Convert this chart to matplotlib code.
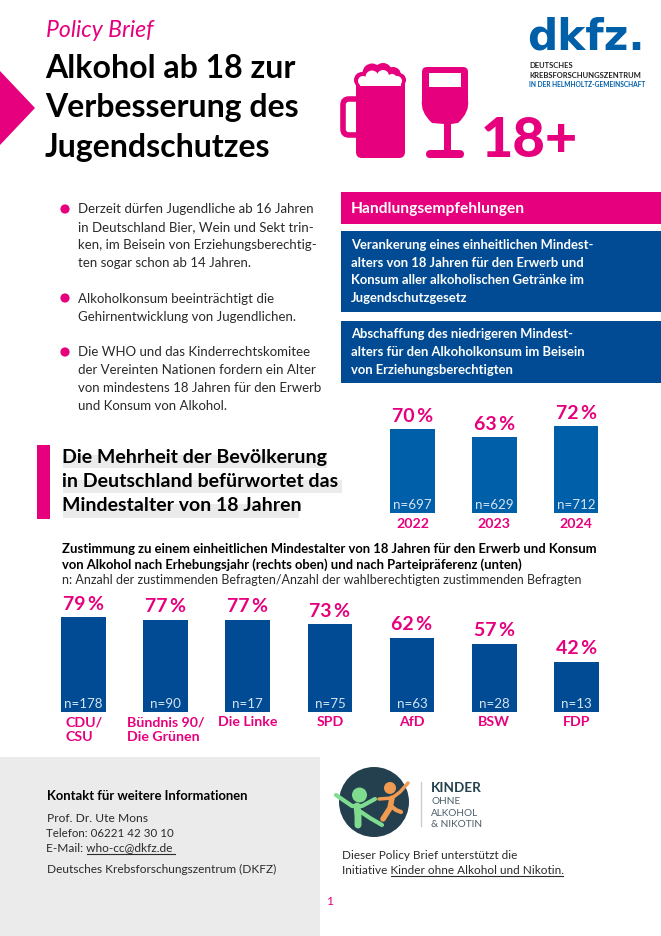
import matplotlib
matplotlib.use('Agg')
import matplotlib.pyplot as plt
from matplotlib.patches import Rectangle, Polygon, Circle, FancyBboxPatch, PathPatch
from matplotlib.path import Path

# Daten
jahre = ['2022', '2023', '2024']
jahre_werte = [70, 63, 72]
jahre_n = ['n=697', 'n=629', 'n=712']

parteien = ['CDU/\nCSU', 'Bündnis 90/\nDie Grünen', 'Die Linke', 'SPD', 'AfD', 'BSW', 'FDP']
parteien_werte = [79, 77, 77, 73, 62, 57, 42]
parteien_n = ['n=178', 'n=90', 'n=17', 'n=75', 'n=63', 'n=28', 'n=13']

PINK = '#e6007e'
BLAU = '#004b93'
BLAU2 = '#005fa9'
GRAU = '#ebebeb'
TXT = '#2a2a2a'
FONT = 'Lato'

plt.rcParams['font.family'] = [FONT, 'DejaVu Sans']

W, H = 661, 936
fig = plt.figure(figsize=(W / 100, H / 100), dpi=100)

# Seite in Pixelkoordinaten
bg = fig.add_axes([0, 0, 1, 1])
bg.set_xlim(0, W)
bg.set_ylim(H, 0)
bg.axis('off')


def t(x, y, s, px, color=TXT, weight='normal', **kw):
    return bg.text(x, y, s, fontsize=px * 0.72, color=color, fontweight=weight, va='baseline', **kw)


def rect(x0, y0, x1, y1, color):
    bg.add_patch(Rectangle((x0, y0), x1 - x0, y1 - y0, fc=color, ec='none'))


# Kopf
bg.add_patch(Polygon([(0, 71), (35, 108), (0, 145)], fc=PINK, ec='none'))
t(46, 37, 'Policy Brief', 23, color=PINK, style='italic')
for y, s in zip([78, 117, 157], ['Alkohol ab 18 zur', 'Verbesserung des', 'Jugendschutzes']):
    t(45, y, s, 32, color='#000000', weight='bold')

# Logo dkfz
bg.text(527, 50, 'dkfz.', fontsize=30.5, color=BLAU2, fontweight='bold', family='DejaVu Sans', va='baseline')
t(529, 68, 'DEUTSCHES', 7.7, color='#222222', weight='bold')
t(529, 77.5, 'KREBSFORSCHUNGSZENTRUM', 7.7, color='#222222', weight='bold')
t(529, 87, 'IN DER HELMHOLTZ-GEMEINSCHAFT', 6.6, color=BLAU2, weight='bold')

# Bierkrug
bg.add_patch(FancyBboxPatch((343, 99), 22, 36, boxstyle='round,pad=0,rounding_size=6',
                            fc='white', ec=PINK, lw=4))
bg.add_patch(FancyBboxPatch((356, 75), 49, 83, boxstyle='round,pad=0,rounding_size=6', fc=PINK, ec='none'))
for cx, cy, r in [(362, 80, 8), (372, 73, 9.5), (383, 72, 9), (393, 75, 8), (399, 80, 7)]:
    bg.add_patch(Circle((cx, cy), r, fc=PINK, ec='none'))
rect(360, 79, 401, 86, 'white')
for cx, cy, r in [(363, 81, 5), (372, 77, 6.5), (383, 76, 6), (392, 79, 5), (397, 81, 5)]:
    bg.add_patch(Circle((cx, cy), r, fc='white', ec='none'))

# Weinglas
glas = [(427, 67), (463, 67), (468, 67), (468, 72), (468, 100), (470, 112), (458, 123), (451, 124),
        (451, 150), (459, 150), (464, 150), (464, 154), (464, 158), (460, 158), (430, 158), (426, 158),
        (426, 154), (426, 150), (431, 150), (444, 150), (444, 124), (432, 123), (420, 112), (422, 100),
        (422, 72), (422, 67), (427, 67), (427, 67)]
codes = [Path.MOVETO, Path.LINETO, Path.CURVE3, Path.CURVE3, Path.LINETO, Path.CURVE3, Path.CURVE3, Path.LINETO,
         Path.LINETO, Path.LINETO, Path.CURVE3, Path.CURVE3, Path.CURVE3, Path.CURVE3, Path.LINETO, Path.CURVE3,
         Path.CURVE3, Path.CURVE3, Path.CURVE3, Path.LINETO, Path.LINETO, Path.LINETO, Path.CURVE3, Path.CURVE3,
         Path.LINETO, Path.CURVE3, Path.CURVE3, Path.CLOSEPOLY]
bg.add_patch(PathPatch(Path(glas, codes), fc=PINK, ec='none'))
rect(429, 73, 461, 87, 'white')
t(481, 157, '18+', 56, color=PINK, weight=900)

# Punkte links
punkte = [
    (209, ['Derzeit dürfen Jugendliche ab 16 Jahren', 'in Deutschland Bier, Wein und Sekt trin-',
           'ken, im Beisein von Erziehungsberechtig-', 'ten sogar schon ab 14 Jahren.'], [213, 231, 249, 267]),
    (298, ['Alkoholkonsum beeinträchtigt die', 'Gehirnentwicklung von Jugendlichen.'], [303, 321]),
    (352, ['Die WHO und das Kinderrechtskomitee', 'der Vereinten Nationen fordern ein Alter',
           'von mindestens 18 Jahren für den Erwerb', 'und Konsum von Alkohol.'], [356, 374, 392, 410]),
]
for py, zeilen, ys in punkte:
    bg.add_patch(Circle((65, py), 4.6, fc=PINK, ec='none'))
    for y, s in zip(ys, zeilen):
        t(78, y, s, 13.2)

# Handlungsempfehlungen
rect(340.5, 192, W, 223.5, PINK)
t(351, 213, 'Handlungsempfehlungen', 15.5, color='white', weight='bold')
rect(340.5, 231, W, 312, BLAU)
rect(340.5, 320.5, W, 383, BLAU)
for y, s in zip([249, 267, 284.5, 302.5], ['Verankerung eines einheitlichen Mindest-', 'alters von 18 Jahren für den Erwerb und',
                                           'Konsum aller alkoholischen Getränke im', 'Jugendschutzgesetz']):
    t(351, y, s, 13, color='white', weight='bold')
for y, s in zip([338, 356, 373.5], ['Abschaffung des niedrigeren Mindest-', 'alters für den Alkoholkonsum im Beisein',
                                    'von Erziehungsberechtigten']):
    t(351, y, s, 13, color='white', weight='bold')

# Überschrift mit grauem Band
rect(36.7, 444.5, 49.7, 519, PINK)
rect(63, 455, 327, 468, GRAU)
rect(63, 480, 342, 493, GRAU)
rect(63, 504, 299, 518, GRAU)
for y, s in zip([463, 487, 511], ['Die Mehrheit der Bevölkerung', 'in Deutschland befürwortet das',
                                  'Mindestalter von 18 Jahren']):
    t(62, y, s, 19.5, color='#000000', weight='bold')

t(62, 553, 'Zustimmung zu einem einheitlichen Mindestalter von 18 Jahren für den Erwerb und Konsum', 13.05,
  color='#000000', weight='bold')
t(62, 569, 'von Alkohol nach Erhebungsjahr (rechts oben) und nach Parteipräferenz (unten)', 13.05,
  color='#000000', weight='bold')
t(62, 584, 'n: Anzahl der zustimmenden Befragten/Anzahl der wahlberechtigten zustimmenden Befragten', 12.5)

# Fußbereich
rect(0, 757, 320, H, GRAU)
t(47, 800, 'Kontakt für weitere Informationen', 13, color='#000000', weight='bold')
t(47, 822, 'Prof. Dr. Ute Mons', 12)
t(46, 837, 'Telefon: 06221 42 30 10', 11.5)
t(46, 851, 'E-Mail: who-cc@dkfz.de', 11.9)
bg.plot([87, 175], [854, 854], color=TXT, lw=0.8)
t(47, 873, 'Deutsches Krebsforschungszentrum (DKFZ)', 11.9)

# Logo Kinder ohne Alkohol
bg.add_patch(Circle((374, 802), 35, fc='#24404f', ec='none'))
GRUEN = '#7fdc8f'
ORANGE = '#f09a52'
bg.add_patch(Circle((359.5, 795), 7.5, fc=GRUEN, ec='none'))
bg.plot([336, 352, 362, 375], [795, 806, 806, 799], color=GRUEN, lw=3, solid_capstyle='round')
bg.plot([357, 358, 358], [806, 816, 825], color=GRUEN, lw=5, solid_capstyle='round')
bg.plot([358, 370, 382], [810, 818, 825], color=GRUEN, lw=3, solid_capstyle='round')
bg.add_patch(Circle((390, 788), 6, fc=ORANGE, ec='none'))
bg.plot([379, 392, 400, 408], [799, 798, 792, 783], color=ORANGE, lw=2.5, solid_capstyle='round')
bg.plot([392, 390, 383], [798, 808, 819], color=ORANGE, lw=4, solid_capstyle='round')
bg.plot([391, 396, 401], [806, 810, 812], color=ORANGE, lw=3, solid_capstyle='round')
bg.plot([421, 421], [782, 826], color='#c8ced2', lw=1)
t(431, 792, 'KINDER', 13.5, color='#24404f', weight='bold')
for y, s in zip([804, 815.5, 827], ['OHNE', 'ALKOHOL', '& NIKOTIN']):
    t(431, y, s, 10, color='#4d5f6b')

t(342, 859, 'Dieser Policy Brief unterstützt die', 11.8)
t(342, 874, 'Initiative Kinder ohne Alkohol und Nikotin.', 11.8)
bg.plot([391, 563], [876, 876], color=TXT, lw=0.8)
t(327, 905, '1', 12, color=PINK)


def balken(pos, namen, werte, ns, farbe, pad):
    # pos in Pixeln: links, unten (von oben gezählt), breite, höhe
    x0, y0, b, h = pos
    ax = fig.add_axes([x0 / W, 1 - y0 / H, b / W, h / H])
    ax.patch.set_alpha(0)
    xs = range(len(werte))
    rects = ax.bar(xs, werte, width=0.546, color=farbe)
    ax.set_xlim(-0.5, len(werte) - 0.5)
    ax.set_ylim(0, 100)
    for s in ax.spines.values():
        s.set_visible(False)
    ax.set_yticks([])
    ax.set_xticks(list(xs))
    ax.set_xticklabels(namen, color=PINK, fontweight='bold', fontsize=10.2, ma='left', linespacing=1.25)
    ax.tick_params(axis='x', length=0, pad=pad)
    for r, v, n in zip(rects, werte, ns):
        ax.annotate(f'{v}\u2009%', (r.get_x() + r.get_width() / 2, v), xytext=(0, 3), textcoords='offset points',
                    ha='center', va='bottom', color=PINK, fontweight='bold', fontsize=14)
        ax.annotate(n, (r.get_x() + r.get_width() / 2, 0), xytext=(0, 2.6), textcoords='offset points',
                    ha='center', va='baseline', color='#d5e3f0', fontsize=9.6)
    return ax


balken((371.6, 512.7, 245.4, 120), jahre, jahre_werte, jahre_n, BLAU2, 3.5)
balken((42.6, 712, 574.7, 120), parteien, parteien_werte, parteien_n, BLAU, 3)

fig.savefig('out.png', dpi=100)
